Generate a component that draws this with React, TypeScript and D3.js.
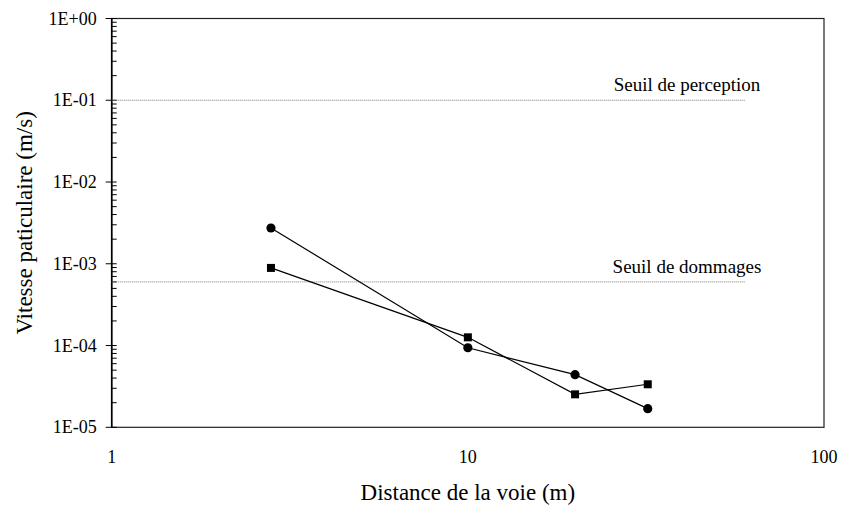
import React, { useEffect, useRef } from 'react';
import * as d3 from 'd3';

// distances (m)
const distCircles = [2.8, 10, 20, 32];
const vitCircles = [2.74e-3, 9.4e-5, 4.4e-5, 1.69e-5];
const distSquares = [2.8, 10, 20, 32];
const vitSquares = [8.9e-4, 1.26e-4, 2.53e-5, 3.36e-5];

// threshold lines
const seuils = [
  { label: 'Seuil de perception', value: 0.1 },
  { label: 'Seuil de dommages', value: 6e-4 },
];
const seuilEnd = 60;

const yTickLabels = ['1E+00', '1E-01', '1E-02', '1E-03', '1E-04', '1E-05'];
const yTickValues = [1, 1e-1, 1e-2, 1e-3, 1e-4, 1e-5];
const xTickValues = [1, 10, 100];

const App: React.FC = () => {
  const ref = useRef<SVGSVGElement>(null);

  useEffect(() => {
    const svg = d3.select(ref.current);
    svg.selectAll('*').remove();

    const left = 111.7, right = 824, top = 18.5, bottom = 427.3;

    const x = d3.scaleLog().domain([1, 100]).range([left, right]);
    const y = d3.scaleLog().domain([1e-5, 1]).range([bottom, top]);

    // frame
    svg.append('rect')
      .attr('x', left).attr('y', top)
      .attr('width', right - left).attr('height', bottom - top)
      .attr('fill', 'none').attr('stroke', '#222').attr('stroke-width', 1.2);

    // y minor ticks
    for (let e = -5; e < 0; e++) {
      for (let m = 2; m <= 9; m++) {
        const v = m * Math.pow(10, e);
        svg.append('line')
          .attr('x1', left).attr('x2', left + 5)
          .attr('y1', y(v)).attr('y2', y(v))
          .attr('stroke', '#000').attr('stroke-width', 1);
      }
    }
    // y major ticks + labels
    yTickValues.forEach((v, i) => {
      svg.append('line')
        .attr('x1', left - 6).attr('x2', left + 5)
        .attr('y1', y(v)).attr('y2', y(v))
        .attr('stroke', '#000').attr('stroke-width', 1);
      svg.append('text')
        .attr('x', left - 15).attr('y', y(v) + 6)
        .attr('text-anchor', 'end')
        .attr('font-size', 18)
        .text(yTickLabels[i]);
    });
    svg.append('line')
      .attr('x1', left).attr('x2', left)
      .attr('y1', top).attr('y2', bottom)
      .attr('stroke', '#000').attr('stroke-width', 1.6);

    // x labels
    xTickValues.forEach((v) => {
      svg.append('text')
        .attr('x', x(v)).attr('y', 463)
        .attr('text-anchor', 'middle')
        .attr('font-size', 18)
        .text(String(v));
    });

    // thresholds
    seuils.forEach((s) => {
      svg.append('line')
        .attr('x1', x(1)).attr('x2', x(seuilEnd))
        .attr('y1', y(s.value)).attr('y2', y(s.value))
        .attr('stroke', '#777').attr('stroke-width', 1)
        .attr('stroke-dasharray', '1,1');
      svg.append('text')
        .attr('x', 687).attr('y', y(s.value) - 9)
        .attr('text-anchor', 'middle')
        .attr('font-size', 19)
        .text(s.label);
    });

    const line = d3.line<[number, number]>()
      .x((d) => x(d[0]))
      .y((d) => y(d[1]));

    const circ = distCircles.map((d, i) => [d, vitCircles[i]] as [number, number]);
    const sq = distSquares.map((d, i) => [d, vitSquares[i]] as [number, number]);

    svg.append('path').datum(circ).attr('d', line)
      .attr('fill', 'none').attr('stroke', '#000').attr('stroke-width', 1.2);
    svg.append('path').datum(sq).attr('d', line)
      .attr('fill', 'none').attr('stroke', '#000').attr('stroke-width', 1.2);

    svg.selectAll('circle.pt').data(circ).enter().append('circle')
      .attr('class', 'pt')
      .attr('cx', (d) => x(d[0])).attr('cy', (d) => y(d[1]))
      .attr('r', 4.6).attr('fill', '#000');
    svg.selectAll('rect.pt').data(sq).enter().append('rect')
      .attr('class', 'pt')
      .attr('x', (d) => x(d[0]) - 4).attr('y', (d) => y(d[1]) - 4)
      .attr('width', 8).attr('height', 8).attr('fill', '#000');

    // axis titles
    svg.append('text')
      .attr('x', (left + right) / 2).attr('y', 500)
      .attr('text-anchor', 'middle')
      .attr('font-size', 23)
      .text('Distance de la voie (m)');
    svg.append('text')
      .attr('transform', `translate(32,${(top + bottom) / 2}) rotate(-90)`)
      .attr('text-anchor', 'middle')
      .attr('font-size', 23)
      .text('Vitesse paticulaire (m/s)');
  }, []);

  return (
    <svg ref={ref} width={842} height={507}
      style={{ position: 'absolute', left: 0, top: 0, background: '#fff',
        fontFamily: "'Liberation Serif', 'Times New Roman', serif" }} />
  );
};

export default App;
